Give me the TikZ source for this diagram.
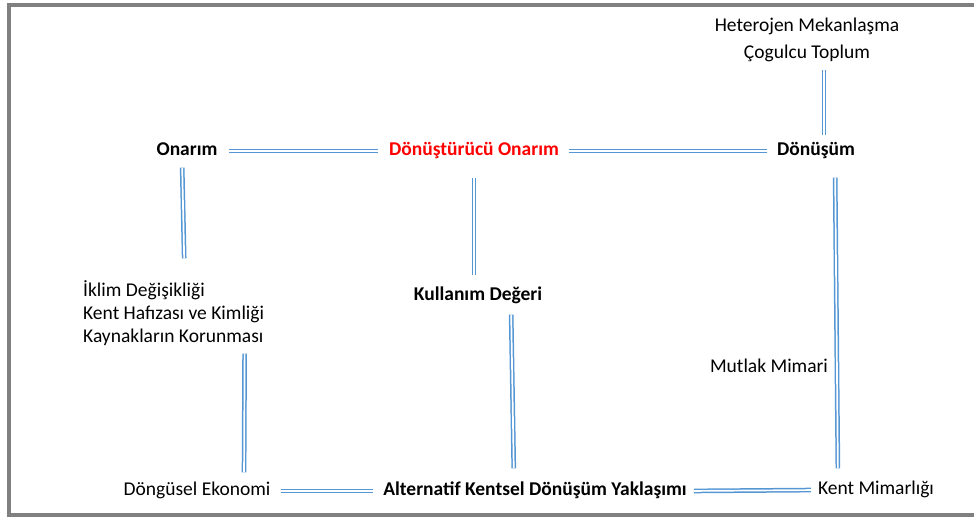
\documentclass[tikz,border=0pt]{standalone}
\usepackage{fontspec}
\setmainfont{Carlito}
\usepackage{xcolor}
\definecolor{linkblue}{RGB}{85,150,212}
\definecolor{framegray}{RGB}{128,128,128}

\begin{document}
\begin{tikzpicture}[
        x=1pt, y=-1pt,
        plain/.style={
            inner sep=0pt,
            text height=13pt,
            text depth=4pt,
            font=\fontsize{19.5}{23}\selectfont,
          },
        hub/.style={
            plain,
            font=\fontsize{19.5}{23}\selectfont\bfseries,
          },
        link/.style={
            draw=linkblue,
            double=white,
            double distance=1.7pt,
            line width=1.5pt,
            shorten <=#1,
            shorten >=#1,
          },
        link/.default=10pt
        ]
        \useasboundingbox (0,0) rectangle (974,517);
        \draw[framegray, line width=4pt] (974,5) -| (8.5,514.5) -- (974,514.5);

        \node[plain] (heterojen) at (807,27) {Heterojen Mekanlaşma};
        \node[plain] (cogulcu) at (807,54) {Çogulcu Toplum};
        \node[hub] (onarim) at (187,151) {Onarım};
        \node[hub, text=red] (donusturucu) at (474,151) {Dönüştürücü Onarım};
        \node[hub] (donusum) at (816,151) {Dönüşüm};
        \node[hub] (kullanim) at (478,296) {Kullanım Değeri};
        \node[plain, anchor=west, align=left, text height=, text depth=] (iklim) at (83,313)
            {İklim Değişikliği\\Kent Hafızası ve Kimliği\\Kaynakların Korunması};
        \node[plain] (mutlak) at (769,368) {Mutlak Mimari};
        \node[plain] (dongusel) at (197,491) {Döngüsel Ekonomi};
        \node[hub] (alternatif) at (535,491) {Alternatif Kentsel Dönüşüm Yaklaşımı};
        \node[plain] (kentmim) at (876,490) {Kent Mimarlığı};

        \draw[link=11pt] (onarim.east) -- (donusturucu.west);
        \draw[link=10pt] (donusturucu.east) -- (donusum.west);
        \draw[link=7pt] ([xshift=17pt]cogulcu.south) -- ([xshift=8pt]donusum.north);
        \draw[link, shorten <=8pt, shorten >=22pt] ([xshift=-5pt]onarim.south) -- ([xshift=11pt]iklim.north);
        \draw[link, shorten <=18pt, shorten >=12pt] (donusturucu.south) -- ([xshift=-4pt]kullanim.north);
        \draw[link, shorten <=10pt, shorten >=14pt] ([xshift=33pt]kullanim.south) -- ([xshift=-21pt]alternatif.north);
        \draw[link, shorten <=8pt, shorten >=10pt] ([xshift=71pt]iklim.south) -- ([xshift=47pt]dongusel.north);
        \draw[link, shorten <=18pt, shorten >=13pt] ([xshift=19pt]donusum.south) -- ([xshift=-38pt]kentmim.north);
        \draw[link] (dongusel.east) -- (alternatif.west);
        \draw[link=7pt] (alternatif.east) -- (kentmim.west);
\end{tikzpicture}
\end{document}
